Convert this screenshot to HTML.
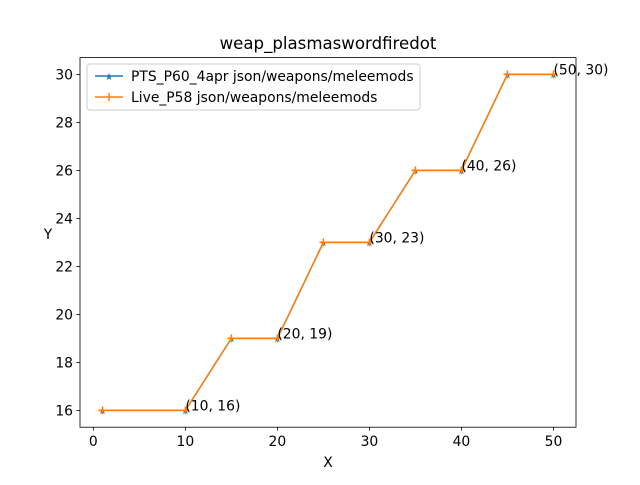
<!DOCTYPE html>
<html><head><meta charset="utf-8"><style>
body{margin:0;background:#fff;}
svg text{font-family:"DejaVu Sans","Liberation Sans",sans-serif;}
</style></head><body>
<svg id="chart" width="640" height="480" xmlns="http://www.w3.org/2000/svg">
<rect width="640" height="480" fill="#fff"/>
<text x="328" y="49" font-size="16.6" text-anchor="middle">weap_plasmaswordfiredot</text>
<g id="axes"></g>
<g id="series"></g>
<g id="legend">
<rect x="87" y="64" width="333" height="46" rx="3" fill="#fff" stroke="#ccc" fill-opacity="0.8"/>
<line x1="95" y1="76" x2="123" y2="76" stroke="#1f77b4" stroke-width="1.5"/>
<text x="109" y="80" font-size="10" fill="#1f77b4" text-anchor="middle">★</text>
<text x="131" y="81" font-size="13.9">PTS_P60_4apr json/weapons/meleemods</text>
<line x1="95" y1="97" x2="123" y2="97" stroke="#ff7f0e" stroke-width="1.5"/>
<line x1="109" y1="93" x2="109" y2="101" stroke="#ff7f0e" stroke-width="1.5"/>
<text x="131" y="102" font-size="13.9">Live_P58 json/weapons/meleemods</text>
</g>
<text x="328" y="467" font-size="13.9" text-anchor="middle">X</text>
<text x="48" y="239" font-size="13.9" text-anchor="middle">Y</text>
</svg>
<script>
const xs=[1,10,15,20,25,30,35,40,45,50];
const ysPts=[16,16,19,19,23,23,26,26,30,30];
const ysLive=[16,16,19,19,23,23,26,26,30,30];
const xTicks=[0,10,20,30,40,50];
const yTicks=[16,18,20,22,24,26,28,30];
const annX=[10,20,30,40,50];
const annY=[16,19,23,26,30];
const L=80,R=576,T=57.6,B=427.2;
const xmin=-1.45,xmax=52.45,ymin=15.3,ymax=30.7;
const sx=v=>L+(v-xmin)/(xmax-xmin)*(R-L);
const sy=v=>B-(v-ymin)/(ymax-ymin)*(B-T);
const NS="http://www.w3.org/2000/svg";
function mk(tag,attrs,parent,txt){const e=document.createElementNS(NS,tag);for(const k in attrs)e.setAttribute(k,attrs[k]);if(txt!==undefined)e.textContent=txt;parent.appendChild(e);return e;}
const ax=document.getElementById('axes');
const frame=mk('rect',{x:L,y:T,width:R-L,height:B-T,fill:'none',stroke:'#000','stroke-width':0.8},ax);


xTicks.forEach(t=>{const x=sx(t);mk('line',{x1:x,y1:B,x2:x,y2:B+3.5,stroke:'#000','stroke-width':0.8},ax);
const tx=mk('text',{x:x,y:B+19,'font-size':13.9,'text-anchor':'middle'},ax,t);

});
yTicks.forEach(t=>{const y=sy(t);mk('line',{x1:L-3.5,y1:y,x2:L,y2:y,stroke:'#000','stroke-width':0.8},ax);
const tx=mk('text',{x:L-7,y:y+5,'font-size':13.9,'text-anchor':'end'},ax,t);

});
const sg=document.getElementById('series');
const pts=xs.map((x,i)=>sx(x)+','+sy(ysPts[i])).join(' ');
const l1=mk('polyline',{points:pts,fill:'none',stroke:'#1f77b4','stroke-width':1.5},sg);


xs.forEach((x,i)=>{const m=mk('text',{x:sx(x),y:sy(ysPts[i])+3.5,'font-size':10,fill:'#1f77b4','text-anchor':'middle'},sg,'★');

});
const lv=xs.map((x,i)=>sx(x)+','+sy(ysLive[i])).join(' ');
const l2=mk('polyline',{points:lv,fill:'none',stroke:'#ff7f0e','stroke-width':1.5},sg);


xs.forEach((x,i)=>{const cx=sx(x),cy=sy(ysLive[i]);
const m=mk('path',{d:`M${cx-4},${cy}H${cx+4}M${cx},${cy-4}V${cy+4}`,stroke:'#ff7f0e','stroke-width':1.5},sg);

});
annX.forEach((x,i)=>{const a=mk('text',{x:sx(x),y:sy(annY[i])+0,'font-size':13.9},sg,`(${x}, ${annY[i]})`);

});
</script>
</body></html>
